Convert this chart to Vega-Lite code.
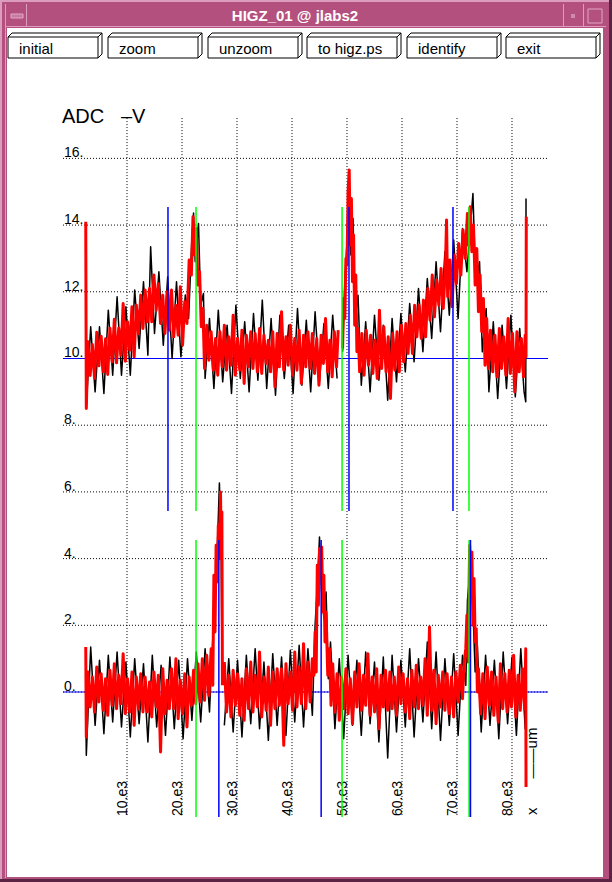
{
  "$schema": "https://vega.github.io/schema/vega-lite/v6.json",
  "description": "HIGZ_01 window: ADC signal vs position, upper and lower channels, black and red traces",
  "width": 612,
  "height": 882,
  "autosize": "none",
  "padding": 0,
  "config": {"view": {"stroke": null}, "font": "Liberation Sans"},
  "datasets": {
    "frame": [
      {"x": 0, "x2": 612, "y": 0, "y2": 882, "f": "#b4507d"},
      {"x": 0, "x2": 612, "y": 0, "y2": 2, "f": "#dc9cbd"},
      {"x": 0, "x2": 2, "y": 0, "y2": 882, "f": "#dc9cbd"},
      {"x": 609, "x2": 612, "y": 0, "y2": 882, "f": "#5a2343"},
      {"x": 0, "x2": 612, "y": 879, "y2": 882, "f": "#5a2343"},
      {"x": 5, "x2": 6, "y": 4, "y2": 878, "f": "#dc9cbd"},
      {"x": 6, "x2": 606, "y": 26, "y2": 27, "f": "#dc9cbd"},
      {"x": 7, "x2": 603, "y": 28, "y2": 877, "f": "#ffffff"},
      {"x": 26, "x2": 27, "y": 4, "y2": 26, "f": "#dc9cbd"},
      {"x": 563, "x2": 564, "y": 4, "y2": 26, "f": "#dc9cbd"},
      {"x": 583, "x2": 584, "y": 4, "y2": 26, "f": "#dc9cbd"},
      {"x": 11, "x2": 23, "y": 14, "y2": 18, "f": "#c97aa2"},
      {"x": 571, "x2": 575, "y": 14, "y2": 18, "f": "#d08aac"}
    ],
    "outline": [
      {"x": 588, "x2": 602, "y": 9, "y2": 23},
      {"x": 11, "x2": 23, "y": 14, "y2": 18}
    ],
    "buttons": [
      {"b": "initial", "x0": 8, "x1": 98},
      {"b": "zoom", "x0": 108, "x1": 198},
      {"b": "unzoom", "x0": 208, "x1": 298},
      {"b": "to higz.ps", "x0": 307, "x1": 397},
      {"b": "identify", "x0": 407, "x1": 497},
      {"b": "exit", "x0": 506, "x1": 596}
    ],
    "hgrid": [{"y": 0}, {"y": 2}, {"y": 4}, {"y": 6}, {"y": 8}, {"y": 10}, {"y": 12}, {"y": 14}, {"y": 16}],
    "vgrid": [{"x": 10}, {"x": 20}, {"x": 30}, {"x": 40}, {"x": 50}, {"x": 60}, {"x": 70}, {"x": 80}],
    "ylab": [{"v": 0, "t": "0."}, {"v": 2, "t": "2."}, {"v": 4, "t": "4."}, {"v": 6, "t": "6."}, {"v": 8, "t": "8."}, {"v": 10, "t": "10."}, {"v": 12, "t": "12."}, {"v": 14, "t": "14."}, {"v": 16, "t": "16."}],
    "xlab": [{"v": 10, "t": "10.e3"}, {"v": 20, "t": "20.e3"}, {"v": 30, "t": "30.e3"}, {"v": 40, "t": "40.e3"}, {"v": 50, "t": "50.e3"}, {"v": 60, "t": "60.e3"}, {"v": 70, "t": "70.e3"}, {"v": 80, "t": "80.e3"}],
    "hline": [{"y": 10}, {"y": 0}],
    "vmark": [
      {"x": 17.45, "y": 5.43, "y2": 14.54, "c": "blue"},
      {"x": 22.55, "y": 5.43, "y2": 14.54, "c": "green"},
      {"x": 49.1, "y": 5.43, "y2": 14.54, "c": "green"},
      {"x": 50.36, "y": 5.43, "y2": 14.54, "c": "blue"},
      {"x": 69.27, "y": 5.43, "y2": 14.54, "c": "blue"},
      {"x": 72.18, "y": 5.43, "y2": 14.54, "c": "green"},
      {"x": 22.55, "y": -3.75, "y2": 4.56, "c": "green"},
      {"x": 26.7, "y": -3.75, "y2": 4.56, "c": "blue"},
      {"x": 45.3, "y": -3.75, "y2": 4.56, "c": "blue"},
      {"x": 49.1, "y": -3.75, "y2": 4.56, "c": "green"},
      {"x": 72.2, "y": -3.75, "y2": 4.56, "c": "green"},
      {"x": 72.45, "y": -3.75, "y2": 4.56, "c": "blue"}
    ],
    "ub": [
      {"x":2.6,"y":8.55},{"x":3.4,"y":10.95},{"x":4.2,"y":9.0},{"x":5.0,"y":10.95},{"x":5.8,"y":8.95},{"x":6.6,"y":11.45},{"x":7.4,"y":9.5},{"x":8.2,"y":11.85},{"x":9.0,"y":9.5},{"x":9.8,"y":11.55},
      {"x":10.6,"y":9.5},{"x":11.4,"y":12.05},{"x":12.2,"y":10.3},{"x":13.0,"y":12.3},{"x":13.8,"y":10.1},{"x":14.3,"y":13.35},{"x":15.0,"y":10.75},{"x":15.8,"y":12.6},{"x":16.6,"y":10.4},{"x":17.4,"y":12.45},
      {"x":18.2,"y":10.0},{"x":19.0,"y":12.3},{"x":19.8,"y":10.05},{"x":20.6,"y":11.9},{"x":21.2,"y":11.2},{"x":21.8,"y":13.6},{"x":22.1,"y":14.36},{"x":22.4,"y":12.9},{"x":23.0,"y":14.05},{"x":23.4,"y":11.6},
      {"x":23.9,"y":11.95},{"x":24.2,"y":9.4},{"x":25.0,"y":11.2},{"x":25.8,"y":9.1},{"x":26.6,"y":11.45},{"x":27.4,"y":9.3},{"x":28.2,"y":11.0},{"x":29.0,"y":8.95},{"x":29.8,"y":11.6},{"x":30.6,"y":9.4},
      {"x":31.4,"y":11.1},{"x":32.2,"y":9.0},{"x":33.0,"y":11.35},{"x":33.8,"y":9.35},{"x":34.6,"y":11.75},{"x":35.4,"y":9.1},{"x":36.2,"y":11.2},{"x":37.0,"y":8.9},{"x":37.8,"y":11.3},{"x":38.6,"y":9.4},
      {"x":39.4,"y":11.0},{"x":40.2,"y":8.95},{"x":41.0,"y":11.5},{"x":41.8,"y":9.2},{"x":42.6,"y":11.15},{"x":43.4,"y":9.0},{"x":44.2,"y":11.4},{"x":45.0,"y":9.3},{"x":45.8,"y":11.05},{"x":46.6,"y":9.1},
      {"x":47.4,"y":11.3},{"x":48.2,"y":9.4},{"x":48.8,"y":null},{"x":49.2,"y":10.2},{"x":49.6,"y":12.3},{"x":50.0,"y":13.5},{"x":50.3,"y":15.3},{"x":50.7,"y":13.1},{"x":51.1,"y":14.2},{"x":51.5,"y":11.2},
      {"x":52.0,"y":11.9},{"x":52.6,"y":9.2},{"x":53.4,"y":11.1},{"x":54.2,"y":9.0},{"x":55.0,"y":11.3},{"x":55.8,"y":9.35},{"x":56.6,"y":11.0},{"x":57.4,"y":8.75},{"x":58.2,"y":11.2},{"x":59.0,"y":9.3},
      {"x":59.8,"y":11.35},{"x":60.6,"y":9.6},{"x":61.4,"y":11.65},{"x":62.2,"y":9.9},{"x":63.0,"y":12.1},{"x":63.8,"y":10.2},{"x":64.6,"y":12.4},{"x":65.4,"y":10.6},{"x":66.2,"y":12.9},{"x":67.0,"y":10.8},
      {"x":67.8,"y":13.2},{"x":68.6,"y":11.3},{"x":69.4,"y":13.55},{"x":70.2,"y":11.2},{"x":71.0,"y":13.9},{"x":71.8,"y":12.6},{"x":72.9,"y":14.95},{"x":73.4,"y":12.2},{"x":74.1,"y":12.9},{"x":74.6,"y":10.2},
      {"x":75.3,"y":11.5},{"x":75.8,"y":9.0},{"x":76.6,"y":11.1},{"x":77.4,"y":8.8},{"x":78.2,"y":11.0},{"x":79.0,"y":9.1},{"x":79.8,"y":11.3},{"x":80.6,"y":8.85},{"x":81.4,"y":10.9},{"x":82.2,"y":9.0},
      {"x":82.5,"y":8.7},{"x":82.55,"y":14.8}
    ],
    "ur": [
      {"x":2.5,"y":14.1},{"x":2.6,"y":8.5},{"x":2.9,"y":10.5},{"x":3.3,"y":9.49},{"x":3.7,"y":10.42},{"x":4.1,"y":9.41},{"x":4.5,"y":10.79},{"x":4.9,"y":9.78},{"x":5.3,"y":10.67},{"x":5.7,"y":9.6},
      {"x":6.1,"y":10.59},{"x":6.5,"y":9.52},{"x":6.9,"y":10.91},{"x":7.3,"y":9.9},{"x":7.7,"y":11.18},{"x":8.1,"y":9.87},{"x":8.5,"y":10.91},{"x":8.9,"y":10.1},{"x":9.3,"y":11.65},{"x":9.7,"y":9.92},
      {"x":10.1,"y":11.1},{"x":10.5,"y":10.25},{"x":10.9,"y":11.55},{"x":11.3,"y":10.05},{"x":11.7,"y":11.6},{"x":12.1,"y":10.75},{"x":12.5,"y":11.9},{"x":12.9,"y":10.9},{"x":13.3,"y":12.05},{"x":13.7,"y":11.1},
      {"x":14.1,"y":12.1},{"x":14.5,"y":11.1},{"x":14.9,"y":12.5},{"x":15.3,"y":11.45},{"x":15.7,"y":12.25},{"x":16.1,"y":11.05},{"x":16.5,"y":11.9},{"x":16.9,"y":10.75},{"x":17.3,"y":12.0},{"x":17.7,"y":10.85},
      {"x":18.1,"y":12.05},{"x":18.5,"y":10.65},{"x":18.9,"y":11.6},{"x":19.3,"y":10.7},{"x":19.7,"y":12.15},{"x":20.1,"y":10.4},{"x":20.5,"y":11.7},{"x":20.9,"y":11.05},{"x":21.3,"y":12.95},{"x":21.7,"y":12.5},
      {"x":22.0,"y":14.25},{"x":22.3,"y":13.1},{"x":22.6,"y":13.9},{"x":22.9,"y":12.2},{"x":23.2,"y":12.6},{"x":23.5,"y":10.95},{"x":23.8,"y":11.5},{"x":24.1,"y":9.7},{"x":24.5,"y":11.0},{"x":24.9,"y":9.95},
      {"x":25.3,"y":10.8},{"x":25.7,"y":9.65},{"x":26.1,"y":10.6},{"x":26.5,"y":9.5},{"x":26.9,"y":10.8},{"x":27.3,"y":9.75},{"x":27.7,"y":11.0},{"x":28.1,"y":9.65},{"x":28.5,"y":10.65},{"x":28.9,"y":9.8},
      {"x":29.3,"y":11.3},{"x":29.7,"y":9.5},{"x":30.1,"y":10.6},{"x":30.5,"y":9.65},{"x":30.9,"y":10.85},{"x":31.3,"y":9.25},{"x":31.7,"y":10.7},{"x":32.1,"y":9.75},{"x":32.5,"y":10.8},{"x":32.9,"y":9.7},
      {"x":33.3,"y":10.75},{"x":33.7,"y":9.6},{"x":34.1,"y":10.9},{"x":34.5,"y":9.55},{"x":34.9,"y":10.7},{"x":35.3,"y":9.85},{"x":35.7,"y":10.55},{"x":36.1,"y":9.6},{"x":36.5,"y":10.8},{"x":36.9,"y":9.15},
      {"x":37.3,"y":10.75},{"x":37.7,"y":9.75},{"x":38.1,"y":11.4},{"x":38.5,"y":9.65},{"x":38.9,"y":10.65},{"x":39.3,"y":9.8},{"x":39.7,"y":11.0},{"x":40.1,"y":9.5},{"x":40.5,"y":10.6},{"x":40.9,"y":9.65},
      {"x":41.3,"y":10.85},{"x":41.7,"y":9.25},{"x":42.1,"y":10.7},{"x":42.5,"y":9.75},{"x":42.9,"y":10.8},{"x":43.3,"y":9.7},{"x":43.7,"y":10.75},{"x":44.1,"y":9.55},{"x":44.5,"y":10.6},{"x":44.9,"y":9.2},
      {"x":45.3,"y":10.7},{"x":45.7,"y":9.85},{"x":46.1,"y":11.2},{"x":46.5,"y":9.6},{"x":46.9,"y":10.55},{"x":47.3,"y":9.45},{"x":47.7,"y":10.8},{"x":48.1,"y":9.75},{"x":48.4,"y":10.85},{"x":48.8,"y":null},
      {"x":49.2,"y":10.3},{"x":49.4,"y":11.8},{"x":49.6,"y":11.2},{"x":49.8,"y":13.0},{"x":50.0,"y":12.8},{"x":50.2,"y":15.0},{"x":50.4,"y":15.65},{"x":50.6,"y":13.4},{"x":50.8,"y":14.8},{"x":51.0,"y":12.3},
      {"x":51.2,"y":13.7},{"x":51.4,"y":11.0},{"x":51.6,"y":12.5},{"x":51.8,"y":10.2},{"x":52.0,"y":10.9},{"x":52.3,"y":9.6},{"x":52.7,"y":10.75},{"x":53.1,"y":9.5},{"x":53.5,"y":10.85},{"x":53.9,"y":9.8},
      {"x":54.3,"y":10.7},{"x":54.7,"y":9.55},{"x":55.1,"y":10.55},{"x":55.5,"y":9.4},{"x":55.9,"y":11.45},{"x":56.3,"y":9.7},{"x":56.7,"y":10.95},{"x":57.1,"y":9.6},{"x":57.5,"y":10.65},{"x":57.9,"y":8.8},
      {"x":58.3,"y":10.75},{"x":58.7,"y":9.65},{"x":59.1,"y":10.8},{"x":59.5,"y":9.6},{"x":59.9,"y":11.0},{"x":60.3,"y":9.9},{"x":60.7,"y":11.05},{"x":61.1,"y":10.15},{"x":61.5,"y":11.3},{"x":61.9,"y":10.15},
      {"x":62.3,"y":11.6},{"x":62.7,"y":10.65},{"x":63.1,"y":11.6},{"x":63.5,"y":10.6},{"x":63.9,"y":11.75},{"x":64.3,"y":10.65},{"x":64.7,"y":12.1},{"x":65.1,"y":11.15},{"x":65.5,"y":12.5},{"x":65.9,"y":11.25},
      {"x":66.3,"y":12.35},{"x":66.7,"y":11.6},{"x":67.1,"y":12.7},{"x":67.5,"y":11.5},{"x":67.9,"y":12.75},{"x":68.1,"y":14.15},{"x":68.3,"y":11.85},{"x":68.7,"y":12.95},{"x":69.1,"y":11.55},{"x":69.5,"y":13.1},
      {"x":69.9,"y":12.25},{"x":70.3,"y":13.45},{"x":70.7,"y":12.5},{"x":71.1,"y":13.85},{"x":71.5,"y":13.0},{"x":71.9,"y":14.35},{"x":72.1,"y":13.4},{"x":72.4,"y":14.55},{"x":72.7,"y":13.2},{"x":73.0,"y":14.0},
      {"x":73.3,"y":12.2},{"x":73.6,"y":13.3},{"x":73.9,"y":11.4},{"x":74.2,"y":12.5},{"x":74.5,"y":10.8},{"x":74.8,"y":11.8},{"x":75.1,"y":9.8},{"x":75.4,"y":11.2},{"x":75.7,"y":9.7},{"x":76.1,"y":10.85},
      {"x":76.5,"y":9.6},{"x":76.9,"y":10.7},{"x":77.3,"y":9.45},{"x":77.7,"y":10.9},{"x":78.1,"y":9.7},{"x":78.5,"y":10.65},{"x":78.9,"y":9.5},{"x":79.3,"y":11.2},{"x":79.7,"y":9.55},{"x":80.1,"y":10.75},
      {"x":80.5,"y":9.0},{"x":80.9,"y":10.8},{"x":81.3,"y":9.6},{"x":81.7,"y":10.6},{"x":82.1,"y":9.45},{"x":82.4,"y":10.7},{"x":82.55,"y":10.05},{"x":82.6,"y":14.25}
    ],
    "lb": [
      {"x":2.5,"y":-0.45},{"x":2.6,"y":-1.9},{"x":3.4,"y":1.35},{"x":4.2,"y":-1.0},{"x":5.0,"y":0.95},{"x":5.8,"y":-1.25},{"x":6.6,"y":1.1},{"x":7.4,"y":-0.9},{"x":8.2,"y":1.2},{"x":9.0,"y":-1.05},
      {"x":9.8,"y":0.9},{"x":10.6,"y":-1.35},{"x":11.4,"y":1.0},{"x":12.2,"y":-0.95},{"x":13.0,"y":0.85},{"x":13.8,"y":-1.5},{"x":14.6,"y":1.1},{"x":15.4,"y":-1.05},{"x":16.2,"y":0.8},{"x":17.0,"y":-1.3},
      {"x":17.8,"y":1.05},{"x":18.6,"y":-1.1},{"x":19.4,"y":0.95},{"x":20.2,"y":-1.4},{"x":21.0,"y":1.0},{"x":21.8,"y":-0.85},{"x":22.6,"y":1.2},{"x":23.4,"y":-0.9},{"x":24.2,"y":1.3},{"x":25.0,"y":-0.6},
      {"x":25.6,"y":1.6},{"x":26.0,"y":3.0},{"x":26.4,"y":4.2},{"x":26.8,"y":6.27},{"x":27.1,"y":4.5},{"x":27.3,"y":0.5},{"x":27.5,"y":null},{"x":27.7,"y":-1.0},{"x":28.5,"y":1.0},{"x":29.3,"y":-1.2},
      {"x":30.1,"y":0.95},{"x":30.9,"y":-1.35},{"x":31.7,"y":1.1},{"x":32.5,"y":-0.95},{"x":33.3,"y":1.3},{"x":34.1,"y":-1.1},{"x":34.9,"y":0.9},{"x":35.7,"y":-1.45},{"x":36.5,"y":1.15},{"x":37.3,"y":-1.0},
      {"x":38.1,"y":1.05},{"x":38.9,"y":-1.3},{"x":39.7,"y":1.25},{"x":40.5,"y":-0.9},{"x":41.3,"y":1.4},{"x":42.1,"y":-1.05},{"x":42.9,"y":1.3},{"x":43.7,"y":-0.7},{"x":44.2,"y":2.0},{"x":44.6,"y":3.2},
      {"x":45.0,"y":4.65},{"x":45.4,"y":3.0},{"x":45.8,"y":2.2},{"x":46.2,"y":3.0},{"x":46.6,"y":0.4},{"x":47.0,"y":1.5},{"x":47.8,"y":-1.1},{"x":48.6,"y":1.0},{"x":49.4,"y":-1.4},{"x":50.2,"y":1.1},
      {"x":51.0,"y":-1.0},{"x":51.8,"y":0.95},{"x":52.6,"y":-1.3},{"x":53.4,"y":1.2},{"x":54.2,"y":-0.95},{"x":55.0,"y":0.9},{"x":55.8,"y":-1.5},{"x":56.6,"y":1.05},{"x":57.4,"y":-1.98},{"x":58.2,"y":1.1},
      {"x":59.0,"y":-1.2},{"x":59.8,"y":0.95},{"x":60.6,"y":-1.05},{"x":61.4,"y":1.3},{"x":62.2,"y":-1.35},{"x":63.0,"y":1.0},{"x":63.8,"y":-0.9},{"x":64.6,"y":1.5},{"x":65.4,"y":-1.1},{"x":66.2,"y":1.2},
      {"x":67.0,"y":-1.45},{"x":67.8,"y":1.0},{"x":68.6,"y":-1.0},{"x":69.4,"y":1.15},{"x":70.2,"y":-1.3},{"x":71.0,"y":1.1},{"x":71.6,"y":0.2},{"x":71.9,"y":2.76},{"x":72.4,"y":3.6},{"x":72.9,"y":2.5},
      {"x":73.3,"y":0.6},{"x":73.7,"y":1.4},{"x":74.4,"y":-1.2},{"x":75.2,"y":1.1},{"x":76.0,"y":-1.0},{"x":76.8,"y":0.95},{"x":77.6,"y":-1.4},{"x":78.4,"y":1.2},{"x":79.2,"y":-0.95},{"x":80.0,"y":1.05},
      {"x":80.8,"y":-1.3},{"x":81.6,"y":1.3},{"x":82.4,"y":-1.1},{"x":82.6,"y":-0.5}
    ],
    "lr": [
      {"x":2.5,"y":1.35},{"x":2.6,"y":-1.35},{"x":2.9,"y":0.6},{"x":3.3,"y":-0.45},{"x":3.7,"y":0.45},{"x":4.1,"y":-0.6},{"x":4.5,"y":0.75},{"x":4.9,"y":-0.3},{"x":5.3,"y":0.55},{"x":5.7,"y":-0.55},
      {"x":6.1,"y":0.4},{"x":6.5,"y":-0.7},{"x":6.9,"y":0.65},{"x":7.3,"y":-0.4},{"x":7.7,"y":0.85},{"x":8.1,"y":-0.5},{"x":8.5,"y":0.5},{"x":8.9,"y":-0.35},{"x":9.3,"y":1.15},{"x":9.7,"y":-0.65},
      {"x":10.1,"y":0.4},{"x":10.5,"y":-0.6},{"x":10.9,"y":0.6},{"x":11.3,"y":-1.0},{"x":11.7,"y":0.45},{"x":12.1,"y":-0.5},{"x":12.5,"y":0.55},{"x":12.9,"y":-0.6},{"x":13.3,"y":0.45},{"x":13.7,"y":-0.6},
      {"x":14.1,"y":0.3},{"x":14.5,"y":-0.75},{"x":14.9,"y":0.6},{"x":15.3,"y":-0.45},{"x":15.7,"y":0.5},{"x":16.1,"y":-1.8},{"x":16.5,"y":0.7},{"x":16.9,"y":-0.65},{"x":17.3,"y":0.35},{"x":17.7,"y":-0.5},
      {"x":18.1,"y":0.7},{"x":18.5,"y":-0.5},{"x":18.9,"y":1.0},{"x":19.3,"y":-0.8},{"x":19.7,"y":0.35},{"x":20.1,"y":-0.65},{"x":20.5,"y":0.55},{"x":20.9,"y":-1.05},{"x":21.3,"y":0.45},{"x":21.7,"y":-0.4},
      {"x":22.1,"y":0.65},{"x":22.5,"y":-0.35},{"x":22.9,"y":0.85},{"x":23.3,"y":-0.3},{"x":23.7,"y":1.0},{"x":24.1,"y":-0.25},{"x":24.5,"y":1.1},{"x":24.9,"y":-0.1},{"x":25.3,"y":1.3},{"x":25.6,"y":0.2},
      {"x":25.8,"y":3.5},{"x":26.0,"y":1.8},{"x":26.2,"y":4.4},{"x":26.4,"y":3.3},{"x":26.6,"y":5.0},{"x":26.8,"y":4.0},{"x":27.0,"y":6.0},{"x":27.15,"y":4.0},{"x":27.25,"y":5.4},{"x":27.35,"y":0.2},
      {"x":27.5,"y":null},{"x":27.7,"y":0.9},{"x":28.1,"y":-0.6},{"x":28.5,"y":0.5},{"x":28.9,"y":-0.75},{"x":29.3,"y":0.65},{"x":29.7,"y":-0.4},{"x":30.1,"y":0.55},{"x":30.5,"y":-0.7},{"x":30.9,"y":0.4},
      {"x":31.3,"y":-0.85},{"x":31.7,"y":0.7},{"x":32.1,"y":-0.5},{"x":32.5,"y":0.9},{"x":32.9,"y":-0.6},{"x":33.3,"y":0.5},{"x":33.7,"y":-0.45},{"x":34.1,"y":1.2},{"x":34.5,"y":-0.75},{"x":34.9,"y":0.45},
      {"x":35.3,"y":-0.55},{"x":35.7,"y":0.75},{"x":36.1,"y":-1.0},{"x":36.5,"y":0.6},{"x":36.9,"y":-0.5},{"x":37.3,"y":0.7},{"x":37.7,"y":-0.4},{"x":38.1,"y":0.7},{"x":38.5,"y":-1.6},{"x":38.9,"y":0.85},
      {"x":39.3,"y":-0.35},{"x":39.7,"y":0.6},{"x":40.1,"y":-0.55},{"x":40.5,"y":1.2},{"x":40.9,"y":-0.45},{"x":41.3,"y":0.75},{"x":41.7,"y":-0.35},{"x":42.1,"y":1.45},{"x":42.5,"y":-0.5},{"x":42.9,"y":0.9},
      {"x":43.3,"y":-0.3},{"x":43.7,"y":1.0},{"x":44.0,"y":0.5},{"x":44.2,"y":1.8},{"x":44.4,"y":0.6},{"x":44.6,"y":3.8},{"x":44.8,"y":2.6},{"x":45.0,"y":4.3},{"x":45.2,"y":3.5},{"x":45.4,"y":4.35},
      {"x":45.6,"y":2.4},{"x":45.8,"y":3.5},{"x":46.0,"y":1.5},{"x":46.2,"y":2.4},{"x":46.5,"y":0.5},{"x":46.8,"y":1.3},{"x":47.1,"y":-0.4},{"x":47.4,"y":0.85},{"x":47.8,"y":-0.6},{"x":48.2,"y":0.55},
      {"x":48.6,"y":-0.85},{"x":49.0,"y":0.45},{"x":49.4,"y":-0.5},{"x":49.8,"y":0.7},{"x":50.2,"y":-0.65},{"x":50.6,"y":0.4},{"x":51.0,"y":-0.95},{"x":51.4,"y":0.6},{"x":51.8,"y":-0.45},{"x":52.2,"y":0.85},
      {"x":52.6,"y":-0.55},{"x":53.0,"y":0.5},{"x":53.4,"y":-0.4},{"x":53.8,"y":1.15},{"x":54.2,"y":-0.7},{"x":54.6,"y":0.45},{"x":55.0,"y":-0.6},{"x":55.4,"y":0.7},{"x":55.8,"y":-1.1},{"x":56.2,"y":0.5},
      {"x":56.6,"y":-0.45},{"x":57.0,"y":0.65},{"x":57.4,"y":-0.55},{"x":57.8,"y":0.6},{"x":58.2,"y":-0.5},{"x":58.6,"y":0.45},{"x":59.0,"y":-0.7},{"x":59.4,"y":0.75},{"x":59.8,"y":-0.35},{"x":60.2,"y":0.55},
      {"x":60.6,"y":-0.6},{"x":61.0,"y":0.4},{"x":61.4,"y":-0.8},{"x":61.8,"y":0.65},{"x":62.2,"y":-0.45},{"x":62.6,"y":0.8},{"x":63.0,"y":-0.5},{"x":63.4,"y":0.45},{"x":63.8,"y":-0.4},{"x":64.2,"y":1.0},
      {"x":64.6,"y":-0.7},{"x":65.0,"y":1.95},{"x":65.4,"y":-0.55},{"x":65.8,"y":0.65},{"x":66.2,"y":-0.95},{"x":66.6,"y":0.5},{"x":67.0,"y":-0.45},{"x":67.4,"y":0.6},{"x":67.8,"y":-0.55},{"x":68.2,"y":0.55},
      {"x":68.6,"y":-0.65},{"x":69.0,"y":0.45},{"x":69.4,"y":-0.75},{"x":69.8,"y":0.6},{"x":70.2,"y":-0.3},{"x":70.6,"y":0.8},{"x":71.0,"y":-0.2},{"x":71.3,"y":0.9},{"x":71.6,"y":1.3},{"x":71.8,"y":2.3},
      {"x":72.0,"y":0.9},{"x":72.3,"y":4.4},{"x":72.5,"y":3.2},{"x":72.7,"y":4.2},{"x":72.9,"y":2.0},{"x":73.1,"y":3.4},{"x":73.3,"y":1.5},{"x":73.5,"y":1.9},{"x":73.7,"y":0.0},{"x":73.9,"y":0.7},
      {"x":74.3,"y":-0.65},{"x":74.7,"y":0.55},{"x":75.1,"y":-0.8},{"x":75.5,"y":0.75},{"x":75.9,"y":-0.4},{"x":76.3,"y":0.6},{"x":76.7,"y":-0.7},{"x":77.1,"y":0.45},{"x":77.5,"y":-0.9},{"x":77.9,"y":0.85},
      {"x":78.3,"y":-0.5},{"x":78.7,"y":0.55},{"x":79.1,"y":-0.6},{"x":79.5,"y":0.65},{"x":79.9,"y":-0.45},{"x":80.3,"y":1.1},{"x":80.7,"y":-0.75},{"x":81.1,"y":0.5},{"x":81.5,"y":-0.55},{"x":81.9,"y":0.7},
      {"x":82.3,"y":-0.5},{"x":82.5,"y":1.3},{"x":82.55,"y":-2.85}
    ]
  },
  "layer": [
    {
      "layer": [
        {
          "data": {"name": "frame"},
          "mark": {"type": "rect"},
          "encoding": {
            "x": {"field": "x", "type": "quantitative", "scale": {"domain": [0, 612], "nice": false, "zero": false}, "axis": null},
            "x2": {"field": "x2"},
            "y": {"field": "y", "type": "quantitative", "scale": {"domain": [0, 882], "nice": false, "zero": false, "reverse": true}, "axis": null},
            "y2": {"field": "y2"},
            "color": {"field": "f", "type": "nominal", "scale": null}
          }
        },
        {
          "data": {"name": "outline"},
          "mark": {"type": "rect", "filled": false, "color": "#e0a6c4", "strokeWidth": 1},
          "encoding": {
            "x": {"field": "x", "type": "quantitative", "axis": null},
            "x2": {"field": "x2"},
            "y": {"field": "y", "type": "quantitative", "axis": null},
            "y2": {"field": "y2"}
          }
        },
        {
          "data": {"name": "buttons"},
          "mark": {"type": "rule", "color": "#000000", "strokeWidth": 1, "xOffset": 4, "x2Offset": 4},
          "encoding": {
            "x": {"field": "x0", "type": "quantitative", "axis": null},
            "x2": {"field": "x1"},
            "y": {"datum": 33, "type": "quantitative", "axis": null},
            "y2": {"datum": 33}
          }
        },
        {
          "data": {"name": "buttons"},
          "mark": {"type": "rule", "color": "#000000", "strokeWidth": 1, "xOffset": 4},
          "encoding": {
            "x": {"field": "x1", "type": "quantitative", "axis": null},
            "y": {"datum": 33, "type": "quantitative", "axis": null},
            "y2": {"datum": 54}
          }
        },
        {
          "data": {"name": "buttons"},
          "mark": {"type": "rule", "color": "#000000", "strokeWidth": 1, "x2Offset": 4},
          "encoding": {
            "x": {"field": "x0", "type": "quantitative", "axis": null},
            "x2": {"field": "x0"},
            "y": {"datum": 37, "type": "quantitative", "axis": null},
            "y2": {"datum": 33}
          }
        },
        {
          "data": {"name": "buttons"},
          "mark": {"type": "rule", "color": "#000000", "strokeWidth": 1, "x2Offset": 4},
          "encoding": {
            "x": {"field": "x1", "type": "quantitative", "axis": null},
            "x2": {"field": "x1"},
            "y": {"datum": 37, "type": "quantitative", "axis": null},
            "y2": {"datum": 33}
          }
        },
        {
          "data": {"name": "buttons"},
          "mark": {"type": "rule", "color": "#000000", "strokeWidth": 1, "x2Offset": 4},
          "encoding": {
            "x": {"field": "x1", "type": "quantitative", "axis": null},
            "x2": {"field": "x1"},
            "y": {"datum": 58, "type": "quantitative", "axis": null},
            "y2": {"datum": 54}
          }
        },
        {
          "data": {"name": "buttons"},
          "mark": {"type": "rect", "fill": "#ffffff", "stroke": "#000000", "strokeWidth": 1},
          "encoding": {
            "x": {"field": "x0", "type": "quantitative", "axis": null},
            "x2": {"field": "x1"},
            "y": {"datum": 37, "type": "quantitative", "axis": null},
            "y2": {"datum": 58}
          }
        },
        {
          "data": {"name": "buttons"},
          "mark": {"type": "text", "align": "left", "baseline": "alphabetic", "dx": 11, "fontSize": 15, "font": "Liberation Sans", "color": "#000000"},
          "encoding": {
            "x": {"field": "x0", "type": "quantitative", "axis": null},
            "y": {"datum": 54, "type": "quantitative", "axis": null},
            "text": {"field": "b"}
          }
        },
        {
          "data": {"values": [{"t": "HIGZ_01 @ jlabs2"}]},
          "mark": {"type": "text", "align": "center", "baseline": "middle", "fontSize": 15, "fontWeight": "bold", "font": "Liberation Sans", "color": "#ffffff"},
          "encoding": {
            "x": {"datum": 295, "type": "quantitative", "axis": null},
            "y": {"datum": 16, "type": "quantitative", "axis": null},
            "text": {"field": "t"}
          }
        }
      ]
    },
    {
      "layer": [
        {
          "data": {"name": "hgrid"},
          "mark": {"type": "rule", "color": "#000000", "strokeWidth": 1, "strokeDash": [1, 2]},
          "encoding": {
            "x": {"datum": -1.64, "type": "quantitative", "scale": {"domain": [-13.091, 98.182], "nice": false, "zero": false}, "axis": null},
            "x2": {"datum": 86.55},
            "y": {"field": "y", "type": "quantitative", "scale": {"domain": [-5.697, 20.749], "nice": false, "zero": false}, "axis": null}
          }
        },
        {
          "data": {"name": "vgrid"},
          "mark": {"type": "rule", "color": "#000000", "strokeWidth": 1, "strokeDash": [1, 2]},
          "encoding": {
            "x": {"field": "x", "type": "quantitative", "axis": null},
            "y": {"datum": -3.69, "type": "quantitative", "axis": null},
            "y2": {"datum": 17.21}
          }
        },
        {
          "data": {"name": "ylab"},
          "mark": {"type": "text", "align": "left", "baseline": "alphabetic", "dy": -1, "fontSize": 14, "font": "Liberation Sans", "color": "#000000"},
          "encoding": {
            "x": {"datum": -1.46, "type": "quantitative", "axis": null},
            "y": {"field": "v", "type": "quantitative", "axis": null},
            "text": {"field": "t"}
          }
        },
        {
          "data": {"name": "xlab"},
          "mark": {"type": "text", "align": "left", "baseline": "alphabetic", "angle": 270, "dx": -1, "fontSize": 14, "font": "Liberation Sans", "color": "#000000"},
          "encoding": {
            "x": {"field": "v", "type": "quantitative", "axis": null},
            "y": {"datum": -3.69, "type": "quantitative", "axis": null},
            "text": {"field": "t"}
          }
        },
        {
          "data": {"values": [{"t": "ADC\u00a0\u00a0\u00a0\u2013V"}]},
          "mark": {"type": "text", "align": "left", "baseline": "alphabetic", "fontSize": 20, "font": "Liberation Sans", "color": "#000000"},
          "encoding": {
            "x": {"datum": -1.82, "type": "quantitative", "axis": null},
            "y": {"datum": 17.06, "type": "quantitative", "axis": null},
            "text": {"field": "t"}
          }
        },
        {
          "data": {"values": [{"t": "x\u00a0\u00a0\u00a0\u00a0\u00a0\u00a0\u00a0\u2014\u2014um"}]},
          "mark": {"type": "text", "align": "left", "baseline": "alphabetic", "angle": 270, "fontSize": 15, "font": "Liberation Sans", "color": "#000000"},
          "encoding": {
            "x": {"datum": 84.55, "type": "quantitative", "axis": null},
            "y": {"datum": -3.69, "type": "quantitative", "axis": null},
            "text": {"field": "t"}
          }
        },
        {
          "data": {"name": "hline"},
          "mark": {"type": "rule", "color": "#0000ff", "strokeWidth": 1.2},
          "encoding": {
            "x": {"datum": -1.64, "type": "quantitative", "axis": null},
            "x2": {"datum": 86.55},
            "y": {"field": "y", "type": "quantitative", "axis": null}
          }
        },
        {
          "data": {"name": "ub"},
          "mark": {"type": "line", "color": "#000000", "strokeWidth": 1.5, "strokeJoin": "round", "invalid": "break-paths-filter-domains"},
          "encoding": {
            "x": {"field": "x", "type": "quantitative", "axis": null},
            "y": {"field": "y", "type": "quantitative", "axis": null}
          }
        },
        {
          "data": {"name": "lb"},
          "mark": {"type": "line", "color": "#000000", "strokeWidth": 1.5, "strokeJoin": "round", "invalid": "break-paths-filter-domains"},
          "encoding": {
            "x": {"field": "x", "type": "quantitative", "axis": null},
            "y": {"field": "y", "type": "quantitative", "axis": null}
          }
        },
        {
          "data": {"name": "ur"},
          "mark": {"type": "line", "color": "#ff0000", "strokeWidth": 3, "strokeJoin": "round", "invalid": "break-paths-filter-domains"},
          "encoding": {
            "x": {"field": "x", "type": "quantitative", "axis": null},
            "y": {"field": "y", "type": "quantitative", "axis": null}
          }
        },
        {
          "data": {"name": "lr"},
          "mark": {"type": "line", "color": "#ff0000", "strokeWidth": 3, "strokeJoin": "round", "invalid": "break-paths-filter-domains"},
          "encoding": {
            "x": {"field": "x", "type": "quantitative", "axis": null},
            "y": {"field": "y", "type": "quantitative", "axis": null}
          }
        },
        {
          "data": {"name": "vmark"},
          "mark": {"type": "rule", "strokeWidth": 1.5},
          "encoding": {
            "x": {"field": "x", "type": "quantitative", "axis": null},
            "y": {"field": "y", "type": "quantitative", "axis": null},
            "y2": {"field": "y2"},
            "color": {"field": "c", "type": "nominal", "scale": {"domain": ["blue", "green"], "range": ["#0000ff", "#00ff00"]}, "legend": null}
          }
        }
      ]
    }
  ],
  "resolve": {"scale": {"x": "independent", "y": "independent"}}
}
